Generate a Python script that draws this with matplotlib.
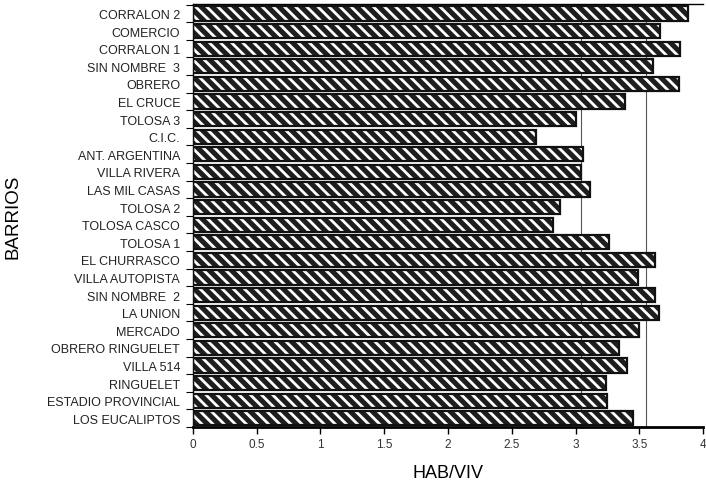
import numpy as np
import matplotlib.pyplot as plt

plt.rcParams['font.family'] = ['Liberation Sans', 'DejaVu Sans']
plt.rcParams['hatch.linewidth'] = 2.0

# barrios, top to bottom as in the chart
barrios = ["CORRALON 2", "COMERCIO", "CORRALON 1", "SIN NOMBRE  3", "OBRERO",
           "EL CRUCE", "TOLOSA 3", "C.I.C.", "ANT. ARGENTINA", "VILLA RIVERA",
           "LAS MIL CASAS", "TOLOSA 2", "TOLOSA CASCO", "TOLOSA 1",
           "EL CHURRASCO", "VILLA AUTOPISTA", "SIN NOMBRE  2", "LA UNION",
           "MERCADO", "OBRERO RINGUELET", "VILLA 514", "RINGUELET",
           "ESTADIO PROVINCIAL", "LOS EUCALIPTOS"]
hab_viv = [3.88, 3.66, 3.82, 3.61, 3.81,
           3.39, 3.00, 2.69, 3.06, 3.04,
           3.11, 2.88, 2.82, 3.26,
           3.62, 3.49, 3.62, 3.65,
           3.50, 3.34, 3.40, 3.24,
           3.25, 3.45]
ref_lines = [3.04, 3.55]
xticks = [0, 0.5, 1, 1.5, 2, 2.5, 3, 3.5, 4]
xticklabels = ["0", "0.5", "1", "1.5", "2", "2.5", "3", "3.5", "4"]

fig = plt.figure(figsize=(7.06, 4.81), dpi=100)
ax = fig.add_axes([0.273, 0.110, 0.723, 0.880])

y = np.arange(len(barrios))
for v in ref_lines:
    ax.axvline(v, color='#555555', lw=0.8, zorder=0)

# dark bars with white diagonal stripes, then black outline on top
ax.barh(y, hab_viv, height=0.8, color='#1e1e1e', edgecolor='white',
        hatch='\\\\\\', lw=0, zorder=2)
ax.barh(y, hab_viv, height=0.8, fill=False, edgecolor='#111111',
        lw=1.6, zorder=3)

ax.set_xlim(0, 4)
ax.set_ylim(23.45, -0.55)
ax.set_xticks(xticks)
ax.set_xticklabels(xticklabels, fontsize=8.5, color='#333333')
ax.tick_params(axis='x', length=5, width=1, pad=3)

# category ticks sit between bars, labels centred on bars
ax.set_yticks(np.arange(-0.5, len(barrios), 1))
ax.set_yticklabels([])
ax.set_yticks(y, minor=True)
ax.set_yticklabels(barrios, minor=True, fontsize=9, color='#222222')
ax.tick_params(axis='y', which='major', length=5, width=0.8)
ax.tick_params(axis='y', which='minor', length=0, pad=9)

ax.spines['right'].set_visible(False)
ax.spines['bottom'].set_linewidth(2)
ax.spines['top'].set_linewidth(1)
ax.spines['left'].set_linewidth(1)

ax.set_xlabel("HAB/VIV", fontsize=13, labelpad=10)
fig.text(0.018, 0.55, "BARRIOS", rotation=90, fontsize=13.5,
         ha='center', va='center')

fig.savefig("out.png", dpi=100)
